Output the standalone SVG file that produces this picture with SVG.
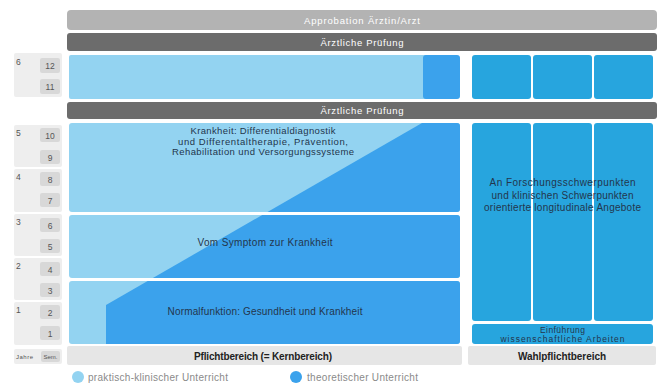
<svg xmlns="http://www.w3.org/2000/svg" width="663" height="383" viewBox="0 0 663 383">
<defs>
<style>
.t{font-family:"Liberation Sans",Arial,sans-serif;fill:#23364d;font-size:10px;text-anchor:middle}
.s{font-size:9.5px}
.e{font-size:8.5px}
.w{font-family:"Liberation Sans",Arial,sans-serif;fill:#ffffff;font-size:9.5px;text-anchor:middle}
.b{font-weight:bold;fill:#222}
.lg{font-family:"Liberation Sans",Arial,sans-serif;fill:#8a8a8a;font-size:10px}
.yr{fill:#eeeeee}
.sm{fill:#d8d8d8}
.n{font-family:"Liberation Sans",Arial,sans-serif;fill:#555;font-size:8.5px}
.nc{font-family:"Liberation Sans",Arial,sans-serif;fill:#555;font-size:8.5px;text-anchor:middle}
.lb{fill:#93d3f1}
.db{fill:#3ba2ec}
.wb{fill:#27a5de}
.lab{fill:#e6e6e6}
</style>
<clipPath id="cA"><rect x="69" y="123" width="391" height="89" rx="3"/></clipPath>
<clipPath id="cB"><rect x="69" y="215" width="391" height="63" rx="3"/></clipPath>
<clipPath id="cC"><rect x="69" y="281" width="391" height="63" rx="3"/></clipPath>
</defs>
<rect width="663" height="383" fill="#ffffff"/>

<g id="approbation">
<rect x="67" y="10" width="590" height="20" rx="4" fill="#b3b3b3"/>
<text class="w" x="362" y="23.5" textLength="116">Approbation Ärztin/Arzt</text>
</g>
<g id="pruefung1">
<rect x="67" y="33" width="590" height="18" rx="3" fill="#6c6c6c"/>
<text class="w" x="362" y="45.5" textLength="83">Ärztliche Prüfung</text>
</g>
<g id="upper-pflicht">
<rect class="lb" x="69" y="55" width="360" height="44" rx="2"/>
<rect class="db" x="423" y="55" width="37" height="44" rx="3"/>
</g>
<g id="pruefung2">
<rect x="67" y="102" width="590" height="17" rx="3" fill="#6c6c6c"/>
<text class="w" x="362" y="113.5" textLength="83">Ärztliche Prüfung</text>
</g>

<g id="section-krankheit">
<g clip-path="url(#cA)">
<rect class="lb" x="69" y="123" width="391" height="89"/>
<polygon class="db" points="422,123 460,123 460,345 106,345 106,305"/>
</g>
<text class="t s" x="263" y="134" textLength="145">Krankheit: Differentialdiagnostik</text>
<text class="t s" x="263" y="144.5" textLength="170">und Differentaltherapie, Prävention,</text>
<text class="t s" x="263" y="155" textLength="182">Rehabilitation und Versorgungssysteme</text>
</g>
<g id="section-symptom">
<g clip-path="url(#cB)">
<rect class="lb" x="69" y="215" width="391" height="63"/>
<polygon class="db" points="422,123 460,123 460,345 106,345 106,305"/>
</g>
<text class="t" x="265" y="246" textLength="135">Vom Symptom zur Krankheit</text>
</g>
<g id="section-normal">
<g clip-path="url(#cC)">
<rect class="lb" x="69" y="281" width="391" height="63"/>
<polygon class="db" points="422,123 460,123 460,345 106,345 106,305"/>
</g>
<text class="t" x="265" y="315" textLength="195">Normalfunktion: Gesundheit und Krankheit</text>
</g>
<g id="pflicht-label">
<rect class="lab" x="67" y="346" width="395" height="19" rx="2"/>
<text class="t b" x="263" y="360" textLength="138">Pflichtbereich (= Kernbereich)</text>
</g>

<g id="wahl-columns">
<rect class="wb" x="472" y="55" width="59" height="44" rx="3"/>
<rect class="wb" x="533" y="55" width="59" height="44" rx="3"/>
<rect class="wb" x="594" y="55" width="59" height="44" rx="3"/>
<rect class="wb" x="472" y="123" width="59" height="198" rx="3"/>
<rect class="wb" x="533" y="123" width="59" height="198" rx="3"/>
<rect class="wb" x="594" y="123" width="59" height="198" rx="3"/>
<text class="t" x="562.5" y="186" textLength="146">An Forschungsschwerpunkten</text>
<text class="t" x="562.5" y="198.5" textLength="142">und klinischen Schwerpunkten</text>
<text class="t" x="562.5" y="211" textLength="157">orientierte longitudinale Angebote</text>
</g>
<g id="einfuehrung">
<rect class="wb" x="472" y="324" width="181" height="20" rx="3"/>
<text class="t e" x="562.5" y="332.5" textLength="45">Einführung</text>
<text class="t e" x="562.5" y="342" textLength="124">wissenschaftliche Arbeiten</text>
</g>
<g id="wahl-label">
<rect class="lab" x="468" y="346" width="188" height="19" rx="2"/>
<text class="t b" x="562" y="359.5" textLength="88">Wahlpflichtbereich</text>
</g>

<g id="years">
<rect class="yr" x="14" y="53" width="48" height="44" rx="2"/>
<text class="n" x="16" y="65">6</text>
<rect class="sm" x="40" y="58" width="20" height="15" rx="2"/><text class="nc" x="50" y="69">12</text>
<rect class="sm" x="40" y="79" width="20" height="15" rx="2"/><text class="nc" x="50" y="90">11</text>

<rect class="yr" x="14" y="125" width="48" height="42" rx="2"/>
<text class="n" x="16" y="136">5</text>
<rect class="sm" x="40" y="128" width="20" height="14" rx="2"/><text class="nc" x="50" y="138.5">10</text>
<rect class="sm" x="40" y="150" width="20" height="14" rx="2"/><text class="nc" x="50" y="160.5">9</text>

<rect class="yr" x="14" y="169" width="48" height="43" rx="2"/>
<text class="n" x="16" y="180">4</text>
<rect class="sm" x="40" y="172" width="20" height="14" rx="2"/><text class="nc" x="50" y="182.5">8</text>
<rect class="sm" x="40" y="193" width="20" height="14" rx="2"/><text class="nc" x="50" y="203.5">7</text>

<rect class="yr" x="14" y="214" width="48" height="42" rx="2"/>
<text class="n" x="16" y="225">3</text>
<rect class="sm" x="40" y="218" width="20" height="14" rx="2"/><text class="nc" x="50" y="228.5">6</text>
<rect class="sm" x="40" y="239" width="20" height="14" rx="2"/><text class="nc" x="50" y="249.5">5</text>

<rect class="yr" x="14" y="258" width="48" height="42" rx="2"/>
<text class="n" x="16" y="269">2</text>
<rect class="sm" x="40" y="262" width="20" height="14" rx="2"/><text class="nc" x="50" y="272.5">4</text>
<rect class="sm" x="40" y="283" width="20" height="14" rx="2"/><text class="nc" x="50" y="293.5">3</text>

<rect class="yr" x="14" y="302" width="48" height="43" rx="2"/>
<text class="n" x="16" y="313">1</text>
<rect class="sm" x="40" y="305" width="20" height="14" rx="2"/><text class="nc" x="50" y="315.5">2</text>
<rect class="sm" x="40" y="326" width="20" height="14" rx="2"/><text class="nc" x="50" y="336.5">1</text>

<rect class="yr" x="14" y="349" width="48" height="15" rx="2"/>
<text class="n" x="16" y="359" style="font-size:6px" textLength="17">Jahre</text>
<rect class="sm" x="41" y="351" width="19" height="11" rx="2"/>
<text class="nc" x="50.5" y="359" style="font-size:6px" textLength="14">Sem.</text>
</g>

<g id="legend">
<circle class="lb" cx="78" cy="377" r="6"/>
<text class="lg" x="88" y="380.5" textLength="140">praktisch-klinischer Unterricht</text>
<circle class="db" cx="296" cy="377" r="6"/>
<text class="lg" x="307" y="380.5" textLength="111">theoretischer Unterricht</text>
</g>
<g id="connectors"></g>
</svg>
